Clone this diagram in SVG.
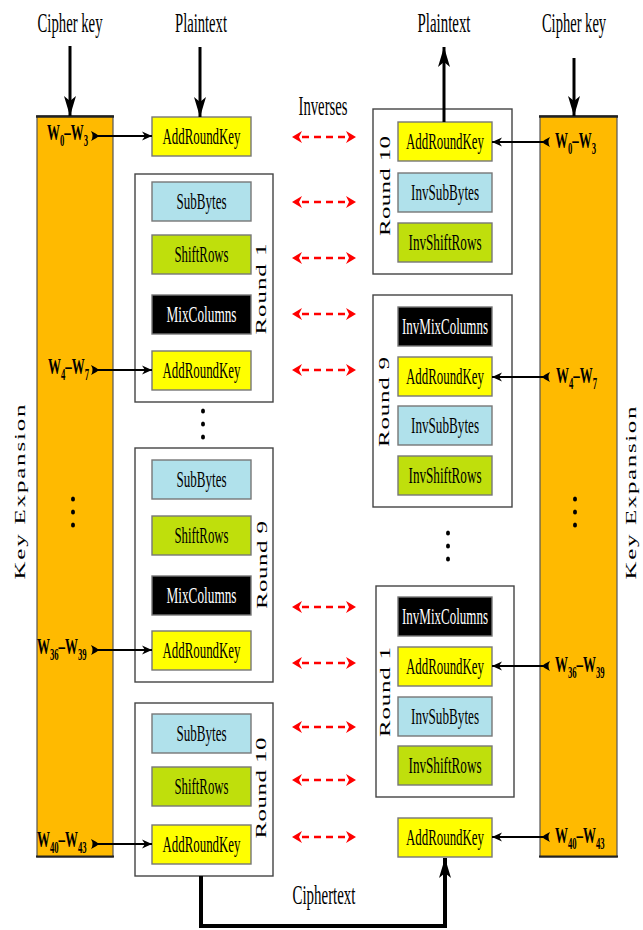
<svg xmlns="http://www.w3.org/2000/svg" width="643" height="930" viewBox="0 0 643 930">
<defs>
<style>
text{font-family:"Liberation Serif","Times New Roman",serif;fill:#000}
.lbl{font-size:28px;text-anchor:middle}
.op{font-size:23px;text-anchor:middle}
.wh{fill:#fff}
.rl{font-size:25px;text-anchor:middle}
.w{font-size:24px;font-weight:bold}
.s{font-size:16px}
.key{fill:#FFBA00;stroke:#555;stroke-width:1.2}
.kedge{stroke:#222;stroke-width:2.5}
.rbox{fill:#fff;stroke:#444;stroke-width:1.4}
.ark{fill:#FFFF00;stroke:#777;stroke-width:1.4}
.sb{fill:#B0E1EB;stroke:#777;stroke-width:1.4}
.sr{fill:#BFDF0C;stroke:#777;stroke-width:1.4}
.mc{fill:#000;stroke:#777;stroke-width:1.4}
.ln{fill:none;stroke:#000}
.v{stroke-width:3;marker-end:url(#hb)}
.k{stroke-width:2;marker-start:url(#tl);marker-end:url(#hs)}
.red{stroke:#FF0000;stroke-width:2.5;stroke-dasharray:7 5;fill:none;marker-start:url(#rh);marker-end:url(#rh)}
</style>
<marker id="hb" markerUnits="userSpaceOnUse" markerWidth="20" markerHeight="12" viewBox="0 0 20 12" refX="20" refY="6" orient="auto"><path d="M0,0 L20,6 L0,12 L5,6 Z" fill="#000"/></marker>
<marker id="hs" markerUnits="userSpaceOnUse" markerWidth="10" markerHeight="10" viewBox="0 0 10 10" refX="10" refY="5" orient="auto"><path d="M0,0.5 L10,5 L0,9.5 L3,5 Z" fill="#000"/></marker>
<marker id="tl" markerUnits="userSpaceOnUse" markerWidth="8" markerHeight="10" viewBox="0 0 8 10" refX="4" refY="5" orient="auto"><path d="M0,0 Q6,3 8,5 Q6,7 0,10 Q3,5 0,0 Z" fill="#000"/></marker>
<marker id="rh" markerUnits="userSpaceOnUse" markerWidth="10" markerHeight="12" viewBox="0 0 10 12" refX="0" refY="6" orient="auto-start-reverse"><path d="M0,0 L10,6 L0,12 L3,6 Z" fill="#FF0000"/></marker>
</defs>
<rect width="643" height="930" fill="#fff"/>

<!-- top / bottom labels -->
<g id="labels">
<text class="lbl" transform="translate(70,32) scale(0.526,1)">Cipher key</text>
<text class="lbl" transform="translate(201,32) scale(0.522,1)">Plaintext</text>
<text class="lbl" transform="translate(444,32) scale(0.532,1)">Plaintext</text>
<text class="lbl" transform="translate(574,32) scale(0.52,1)">Cipher key</text>
<text class="lbl" transform="translate(323,115) scale(0.525,1)">Inverses</text>
<text class="lbl" transform="translate(324,904) scale(0.533,1)">Ciphertext</text>
</g>

<!-- key expansion bars -->
<g id="keyLeft">
<rect class="key" x="37" y="116" width="76" height="741"/>
<line class="kedge" x1="36" y1="116.5" x2="114" y2="116.5"/>
<line class="kedge" x1="36" y1="856.5" x2="114" y2="856.5" style="stroke-width:2"/>
<text class="rl" transform="translate(25,492) rotate(-90) scale(1,0.6)" textLength="175" lengthAdjust="spacing">Key Expansion</text>
<ellipse cx="73" cy="499" rx="2" ry="2.6"/><ellipse cx="73" cy="512" rx="2" ry="2.6"/><ellipse cx="73" cy="525" rx="2" ry="2.6"/>
<text class="w" transform="translate(47,140) scale(0.54,1)">W<tspan class="s" dy="6">0</tspan><tspan dy="-6">–W</tspan><tspan class="s" dy="6">3</tspan></text>
<text class="w" transform="translate(48,374) scale(0.54,1)">W<tspan class="s" dy="6">4</tspan><tspan dy="-6">–W</tspan><tspan class="s" dy="6">7</tspan></text>
<text class="w" transform="translate(37,654) scale(0.54,1)">W<tspan class="s" dy="6">36</tspan><tspan dy="-6">–W</tspan><tspan class="s" dy="6">39</tspan></text>
<text class="w" transform="translate(37,847) scale(0.54,1)">W<tspan class="s" dy="6">40</tspan><tspan dy="-6">–W</tspan><tspan class="s" dy="6">43</tspan></text>
</g>
<g id="keyRight">
<rect class="key" x="540" y="116" width="77" height="741"/>
<line class="kedge" x1="539" y1="116.5" x2="618" y2="116.5"/>
<line class="kedge" x1="539" y1="856.5" x2="618" y2="856.5" style="stroke-width:2"/>
<text class="rl" transform="translate(636,493) rotate(-90) scale(1,0.6)" textLength="173" lengthAdjust="spacing">Key Expansion</text>
<ellipse cx="575" cy="499" rx="2" ry="2.6"/><ellipse cx="575" cy="512" rx="2" ry="2.6"/><ellipse cx="575" cy="525" rx="2" ry="2.6"/>
<text class="w" transform="translate(555,148) scale(0.54,1)">W<tspan class="s" dy="6">0</tspan><tspan dy="-6">–W</tspan><tspan class="s" dy="6">3</tspan></text>
<text class="w" transform="translate(556,383) scale(0.54,1)">W<tspan class="s" dy="6">4</tspan><tspan dy="-6">–W</tspan><tspan class="s" dy="6">7</tspan></text>
<text class="w" transform="translate(555,672) scale(0.54,1)">W<tspan class="s" dy="6">36</tspan><tspan dy="-6">–W</tspan><tspan class="s" dy="6">39</tspan></text>
<text class="w" transform="translate(555,843) scale(0.54,1)">W<tspan class="s" dy="6">40</tspan><tspan dy="-6">–W</tspan><tspan class="s" dy="6">43</tspan></text>
</g>

<!-- cipher side -->
<g id="encARK0">
<rect class="ark" x="152" y="117" width="99" height="39"/>
<text class="op" x="201.5" y="144" textLength="78" lengthAdjust="spacingAndGlyphs">AddRoundKey</text>
</g>
<g id="encRound1">
<rect class="rbox" x="135" y="174" width="138" height="228"/>
<rect class="sb" x="152" y="182" width="99" height="39"/>
<text class="op" x="201.5" y="209" textLength="50" lengthAdjust="spacingAndGlyphs">SubBytes</text>
<rect class="sr" x="152" y="235" width="99" height="39"/>
<text class="op" x="201.5" y="262" textLength="54" lengthAdjust="spacingAndGlyphs">ShiftRows</text>
<rect class="mc" x="152" y="295" width="99" height="39"/>
<text class="op wh" x="201.5" y="322" textLength="70" lengthAdjust="spacingAndGlyphs">MixColumns</text>
<rect class="ark" x="152" y="351" width="99" height="39"/>
<text class="op" x="201.5" y="378" textLength="78" lengthAdjust="spacingAndGlyphs">AddRoundKey</text>
<text class="rl" transform="translate(266,289) rotate(-90) scale(1,0.6)" textLength="91" lengthAdjust="spacing">Round 1</text>
</g>
<g id="encDots">
<ellipse cx="203" cy="411" rx="2" ry="2.6"/><ellipse cx="203" cy="424" rx="2" ry="2.6"/><ellipse cx="203" cy="437" rx="2" ry="2.6"/>
</g>
<g id="encRound9">
<rect class="rbox" x="135" y="448" width="138" height="234"/>
<rect class="sb" x="152" y="460" width="99" height="39"/>
<text class="op" x="201.5" y="487" textLength="50" lengthAdjust="spacingAndGlyphs">SubBytes</text>
<rect class="sr" x="152" y="516" width="99" height="39"/>
<text class="op" x="201.5" y="543" textLength="54" lengthAdjust="spacingAndGlyphs">ShiftRows</text>
<rect class="mc" x="152" y="576" width="99" height="39"/>
<text class="op wh" x="201.5" y="603" textLength="70" lengthAdjust="spacingAndGlyphs">MixColumns</text>
<rect class="ark" x="152" y="631" width="99" height="39"/>
<text class="op" x="201.5" y="658" textLength="78" lengthAdjust="spacingAndGlyphs">AddRoundKey</text>
<text class="rl" transform="translate(267,565) rotate(-90) scale(1,0.6)" textLength="88" lengthAdjust="spacing">Round 9</text>
</g>
<g id="encRound10">
<rect class="rbox" x="135" y="703" width="138" height="173"/>
<rect class="sb" x="152" y="714" width="99" height="39"/>
<text class="op" x="201.5" y="741" textLength="50" lengthAdjust="spacingAndGlyphs">SubBytes</text>
<rect class="sr" x="152" y="767" width="99" height="39"/>
<text class="op" x="201.5" y="794" textLength="54" lengthAdjust="spacingAndGlyphs">ShiftRows</text>
<rect class="ark" x="152" y="825" width="99" height="39"/>
<text class="op" x="201.5" y="852" textLength="78" lengthAdjust="spacingAndGlyphs">AddRoundKey</text>
<text class="rl" transform="translate(266,788) rotate(-90) scale(1,0.6)" textLength="101" lengthAdjust="spacing">Round 10</text>
</g>

<!-- inverse cipher side -->
<g id="decRound10">
<rect class="rbox" x="373" y="109" width="139" height="165"/>
<rect class="ark" x="398" y="122" width="94" height="39"/>
<text class="op" x="445" y="149" textLength="78" lengthAdjust="spacingAndGlyphs">AddRoundKey</text>
<rect class="sb" x="398" y="173" width="94" height="39"/>
<text class="op" x="445" y="200" textLength="68" lengthAdjust="spacingAndGlyphs">InvSubBytes</text>
<rect class="sr" x="398" y="223" width="94" height="39"/>
<text class="op" x="445" y="250" textLength="73" lengthAdjust="spacingAndGlyphs">InvShiftRows</text>
<text class="rl" transform="translate(390,186) rotate(-90) scale(1,0.6)" textLength="100" lengthAdjust="spacing">Round 10</text>
</g>
<g id="decRound9">
<rect class="rbox" x="373" y="295" width="139" height="212"/>
<rect class="mc" x="398" y="307" width="94" height="39"/>
<text class="op wh" x="445" y="334" textLength="86" lengthAdjust="spacingAndGlyphs">InvMixColumns</text>
<rect class="ark" x="398" y="357" width="94" height="39"/>
<text class="op" x="445" y="384" textLength="78" lengthAdjust="spacingAndGlyphs">AddRoundKey</text>
<rect class="sb" x="398" y="406" width="94" height="39"/>
<text class="op" x="445" y="433" textLength="68" lengthAdjust="spacingAndGlyphs">InvSubBytes</text>
<rect class="sr" x="398" y="456" width="94" height="39"/>
<text class="op" x="445" y="483" textLength="73" lengthAdjust="spacingAndGlyphs">InvShiftRows</text>
<text class="rl" transform="translate(389,402) rotate(-90) scale(1,0.6)" textLength="90" lengthAdjust="spacing">Round 9</text>
</g>
<g id="decDots">
<ellipse cx="448" cy="533" rx="2" ry="2.6"/><ellipse cx="448" cy="546" rx="2" ry="2.6"/><ellipse cx="448" cy="559" rx="2" ry="2.6"/>
</g>
<g id="decRound1">
<rect class="rbox" x="376" y="586" width="138" height="211"/>
<rect class="mc" x="398" y="597" width="94" height="39"/>
<text class="op wh" x="445" y="624" textLength="86" lengthAdjust="spacingAndGlyphs">InvMixColumns</text>
<rect class="ark" x="398" y="647" width="94" height="39"/>
<text class="op" x="445" y="674" textLength="78" lengthAdjust="spacingAndGlyphs">AddRoundKey</text>
<rect class="sb" x="398" y="697" width="94" height="39"/>
<text class="op" x="445" y="724" textLength="68" lengthAdjust="spacingAndGlyphs">InvSubBytes</text>
<rect class="sr" x="398" y="746" width="94" height="39"/>
<text class="op" x="445" y="773" textLength="73" lengthAdjust="spacingAndGlyphs">InvShiftRows</text>
<text class="rl" transform="translate(390,692) rotate(-90) scale(1,0.6)" textLength="90" lengthAdjust="spacing">Round 1</text>
</g>
<g id="decARKfinal">
<rect class="ark" x="398" y="818" width="94" height="39"/>
<text class="op" x="445" y="845" textLength="78" lengthAdjust="spacingAndGlyphs">AddRoundKey</text>
</g>

<!-- connectors -->
<g id="connectors">
<line class="ln v" x1="70" y1="46" x2="70" y2="116"/>
<line class="ln v" x1="200" y1="47" x2="200" y2="117"/>
<line class="ln v" x1="444" y1="122" x2="444" y2="47"/>
<line class="ln v" x1="574" y1="58" x2="574" y2="116"/>
<line class="ln k" x1="95" y1="136" x2="152" y2="136"/>
<line class="ln k" x1="95" y1="370" x2="152" y2="370"/>
<line class="ln k" x1="95" y1="650" x2="152" y2="650"/>
<line class="ln k" x1="95" y1="844" x2="152" y2="844"/>
<line class="ln k" x1="546" y1="142" x2="492" y2="142"/>
<line class="ln k" x1="546" y1="377" x2="492" y2="377"/>
<line class="ln k" x1="546" y1="666" x2="492" y2="666"/>
<line class="ln k" x1="546" y1="837" x2="492" y2="837"/>
<path class="ln" d="M201,876 V926 H445 V858" style="stroke-width:4;marker-end:url(#hb)"/>
<line class="red" x1="302" y1="137" x2="346" y2="137"/>
<line class="red" x1="302" y1="202" x2="346" y2="202"/>
<line class="red" x1="302" y1="258" x2="346" y2="258"/>
<line class="red" x1="302" y1="314" x2="346" y2="314"/>
<line class="red" x1="302" y1="370" x2="346" y2="370"/>
<line class="red" x1="302" y1="607" x2="346" y2="607"/>
<line class="red" x1="302" y1="663" x2="346" y2="663"/>
<line class="red" x1="302" y1="727" x2="346" y2="727"/>
<line class="red" x1="302" y1="780" x2="346" y2="780"/>
<line class="red" x1="302" y1="837" x2="346" y2="837"/>
</g>
</svg>
